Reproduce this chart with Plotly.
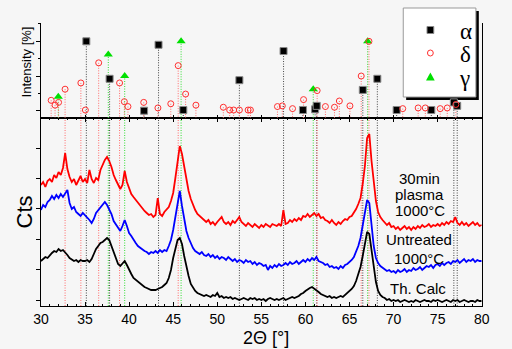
import numpy as np
import plotly.graph_objects as go

# ---------------- data ----------------
two_theta = np.round(np.arange(30.0, 80.001, 0.25), 2)

plasma_30min = [
    121, 124, 119, 125, 127, 124, 131, 128, 134, 131, 138, 153, 137, 129, 124, 127,
    121, 125, 130, 124, 127, 123, 136, 127, 123, 128, 126, 136, 141, 146, 149, 145,
    139, 131, 126, 122, 117, 121, 135, 124, 117, 112, 109, 106, 103, 100, 97, 95,
    93, 91, 92, 89, 91, 108, 92, 90, 94, 96, 99, 105, 113, 128, 147, 160,
    152, 140, 126, 115, 107, 101, 96, 92, 90, 87, 85, 84, 86, 82, 84, 81,
    84, 86, 89, 84, 82, 84, 81, 85, 83, 86, 89, 84, 82, 80, 83, 81,
    79, 82, 80, 78, 81, 79, 82, 80, 79, 82, 81, 80, 82, 80, 96, 82,
    83, 86, 84, 87, 85, 88, 86, 90, 89, 92, 89, 91, 93, 90, 92, 88,
    89, 86, 85, 83, 86, 83, 81, 84, 82, 85, 87, 86, 89, 90, 93, 97,
    102, 108, 122, 140, 168, 172, 145, 125, 105, 94, 89, 86, 84, 81, 83, 79,
    80, 77, 79, 76, 78, 80, 77, 79, 76, 79, 77, 80, 78, 81, 79, 80,
    82, 79, 81, 80, 82, 80, 83, 81, 84, 82, 85, 84, 89, 83, 81, 84,
    81, 83, 80, 82, 84, 81, 83, 80, 81,
]

untreated = [
    96, 101, 99, 104, 106, 110, 107, 111, 108, 112, 109, 113, 116, 103, 97, 99,
    94, 92, 90, 93, 91, 88, 86, 83, 87, 93, 96, 99, 102, 104, 101, 97,
    92, 85, 82, 78, 75, 80, 86, 80, 73, 70, 66, 63, 60, 58, 56, 55,
    54, 52, 54, 53, 55, 53, 56, 54, 56, 55, 60, 66, 76, 90, 104, 115,
    100, 87, 75, 68, 62, 58, 55, 53, 52, 54, 51, 50, 52, 49, 51, 48,
    50, 47, 49, 48, 46, 49, 47, 45, 47, 44, 46, 45, 43, 46, 44, 45,
    42, 44, 41, 43, 42, 40, 41, 36, 40, 38, 41, 39, 42, 40, 41, 43,
    41, 44, 42, 43, 45, 42, 44, 46, 44, 47, 45, 48, 46, 49, 45, 44,
    43, 41, 42, 39, 40, 38, 39, 37, 40, 38, 41, 42, 44, 46, 49, 54,
    60, 68, 80, 95, 106, 103, 80, 60, 48, 43, 40, 38, 37, 35, 36, 34,
    35, 33, 36, 34, 35, 37, 34, 36, 35, 38, 36, 37, 39, 36, 38, 40,
    39, 41, 38, 41, 42, 40, 43, 41, 43, 44, 42, 45, 44, 46, 43, 45,
    47, 44, 46, 45, 47, 44, 46, 45, 45,
]

th_calc = [
    45, 47, 49, 48, 51, 53, 55, 54, 57, 55, 56, 54, 51, 48, 46, 45,
    46, 44, 46, 45, 45, 46, 44, 47, 52, 57, 60, 63, 64, 66, 68, 66,
    60, 52, 46, 42, 40, 42, 45, 41, 36, 32, 28, 26, 24, 22, 20, 19,
    18, 17, 16, 16, 16, 17, 18, 19, 21, 23, 28, 36, 48, 58, 66, 68,
    62, 50, 38, 30, 22, 18, 15, 13, 12, 11, 10, 11, 10, 9, 11, 10,
    13, 9, 10, 8, 9, 8, 9, 7, 8, 7, 6, 7, 8, 7, 6, 8,
    7, 8, 6, 7, 6, 7, 5, 7, 8, 7, 6, 7, 6, 7, 8, 6,
    7, 8, 9, 8, 9, 10, 12, 13, 15, 17, 18, 19, 17, 15, 14, 12,
    11, 10, 9, 10, 8, 9, 8, 9, 10, 9, 11, 12, 14, 17, 20, 25,
    32, 39, 50, 62, 74, 72, 55, 38, 24, 15, 11, 9, 8, 6, 7, 5,
    6, 5, 6, 4, 5, 6, 5, 4, 5, 4, 6, 5, 4, 5, 6, 5,
    5, 4, 6, 5, 6, 5, 4, 5, 6, 5, 4, 6, 5, 6, 4, 5,
    6, 5, 4, 5, 5, 4, 6, 5, 5,
]

alpha_pos = [35.15, 37.79, 41.70, 43.34, 46.15, 52.51, 57.52, 59.72, 61.10, 61.28,
             66.51, 68.16, 70.35, 74.28, 76.84, 77.22]
alpha_int = [100, 46, 0, 95, 1, 44, 86, 1, 2, 7, 30, 46, 1, 1, 12, 7]

delta_pos = [31.16, 31.60, 32.00, 32.74, 34.53, 35.04, 36.55, 38.92, 39.46, 39.87,
             41.66, 43.27, 44.73, 45.57, 46.41, 47.58, 50.69, 51.41, 51.86, 52.51,
             53.50, 53.76, 56.83, 57.38, 58.54, 59.79, 61.33, 62.27, 63.30, 63.85,
             65.05, 66.33, 67.21, 71.04, 72.79, 73.60, 75.29, 76.09, 77.07]
delta_int = [15, 8, 12, 31, 40, 1, 69, 40, 13, 6,
             12, 4, 10, 65, 24, 8, 5, 1, 1, 1,
             1, 1, 6, 7, 3, 16, 29, 6, 5, 14,
             7, 50, 100, 3, 4, 4, 3, 4, 9]

gamma_pos = [31.97, 37.64, 39.50, 45.90, 60.89, 67.06]
gamma_int = [20, 81, 50, 100, 31, 100]

curve_labels = ["30min plasma 1000°C", "Untreated 1000°C", "Th. Calc"]

# ---------------- layout helpers ----------------
W, H = 512, 349
def px(x):
    return x / W
def py(y):
    return 1 - y / H

BG = "#f6f6f6"
SANS = "Liberation Sans, Arial, sans-serif"
SERIF = "Liberation Serif, Times New Roman, serif"

UP_RANGE = [-10.5, 126.4]
LO_RANGE = [0, 188]

fig = go.Figure()

def drop_lines(pos, inten, bottom):
    xs, ys = [], []
    for p, i in zip(pos, inten):
        xs += [p, p, None]
        ys += [i, bottom, None]
    return xs, ys

def full_lines(pos):
    xs, ys = [], []
    for p in pos:
        xs += [p, p, None]
        ys += [LO_RANGE[0], LO_RANGE[1], None]
    return xs, ys

phases = [
    ("γ", gamma_pos, gamma_int, "#33dd33", 25),
    ("α", alpha_pos, alpha_int, "#444444", 5),
    ("δ", delta_pos, delta_int, "#ff6b6b", 25),
]

# reference lines in lower panel (strong reflections)
for name, pos, inten, col, thr in phases:
    sel = [p for p, i in zip(pos, inten) if i >= thr]
    xs, ys = full_lines(sel)
    fig.add_trace(go.Scatter(x=xs, y=ys, mode="lines", xaxis="x", yaxis="y",
                             line=dict(color=col, width=1, dash="1px,1.5px"),
                             showlegend=False, hoverinfo="skip"))

# drop lines in upper panel
for name, pos, inten, col, thr in phases:
    xs, ys = drop_lines(pos, inten, UP_RANGE[0])
    fig.add_trace(go.Scatter(x=xs, y=ys, mode="lines", xaxis="x2", yaxis="y2",
                             line=dict(color=col, width=1, dash="1px,1.5px"),
                             showlegend=False, hoverinfo="skip"))

# markers
fig.add_trace(go.Scatter(x=gamma_pos, y=gamma_int, mode="markers", xaxis="x2", yaxis="y2",
                         marker=dict(symbol="triangle-up", size=8, color="#00e000",
                                     line=dict(width=0)), showlegend=False))
fig.add_trace(go.Scatter(x=alpha_pos, y=alpha_int, mode="markers", xaxis="x2", yaxis="y2",
                         marker=dict(symbol="square", size=7, color="black",
                                     line=dict(color="#888888", width=1)), showlegend=False))
fig.add_trace(go.Scatter(x=delta_pos, y=delta_int, mode="markers", xaxis="x2", yaxis="y2",
                         marker=dict(symbol="circle-open", size=6, color="#ff3030",
                                     line=dict(width=1)), showlegend=False))

# XRD curves
for ys, col, lab in [(th_calc, "black", curve_labels[2]),
                     (untreated, "#0000ff", curve_labels[1]),
                     (plasma_30min, "#ff0000", curve_labels[0])]:
    fig.add_trace(go.Scatter(x=two_theta, y=ys, mode="lines", xaxis="x", yaxis="y",
                             name=lab, line=dict(color=col, width=1.8), showlegend=False))

xdom = [px(34), px(489)]
fig.update_layout(
    width=W, height=H,
    margin=dict(l=0, r=0, t=0, b=0),
    paper_bgcolor=BG, plot_bgcolor=BG,
    showlegend=False,
    xaxis=dict(domain=xdom, anchor="y", range=[30, 80], dtick=5, tick0=30,
               ticks="inside", ticklen=4, tickcolor="black",
               minor=dict(dtick=1, ticks="inside", ticklen=2, tickcolor="black"),
               showline=True, linecolor="black", linewidth=1, mirror="ticks",
               showgrid=False, zeroline=False,
               tickfont=dict(family=SANS, size=14, color="black")),
    yaxis=dict(domain=[py(306), py(118)], anchor="x", range=LO_RANGE,
               tick0=6, dtick=30.4, ticks="outside", ticklen=4, tickcolor="black",
               showticklabels=False, showline=True, linecolor="black", linewidth=1,
               mirror=True, showgrid=False, zeroline=False),
    xaxis2=dict(domain=xdom, anchor="y2", range=[30, 80], dtick=5, tick0=30,
                ticks="inside", ticklen=3, tickcolor="black", showticklabels=False,
                showline=True, linecolor="black", linewidth=1,
                showgrid=False, zeroline=False),
    yaxis2=dict(domain=[py(118), py(23)], anchor="x2", range=UP_RANGE,
                tick0=0, dtick=50, ticks="outside", ticklen=4, tickcolor="black",
                minor=dict(tick0=0, dtick=25, ticks="outside", ticklen=2, tickcolor="black"),
                showticklabels=False, showline=True, linecolor="black", linewidth=1,
                mirror=True, showgrid=False, zeroline=False),
)

ann = []
def text(x, y, s, size=15, family=SANS, angle=0):
    ann.append(dict(x=px(x), y=py(y), xref="paper", yref="paper", text=s,
                    showarrow=False, xanchor="center", yanchor="middle",
                    textangle=angle, font=dict(family=family, size=size, color="black")))

text(425, 178, "30min")
text(425, 194, "plasma")
text(425, 210, "1000°C")
text(424, 240, "Untreated")
text(424, 258, "1000°C")
text(423, 288, "Th. Calc")
text(266, 338, "2Θ [°]", size=18)
text(17, 212, "Cts", size=22, angle=-90)
text(20, 62, "Intensity [%]", size=13, angle=-90)

# legend (drawn manually)
text(473, 31, "α", size=23, family=SERIF)
text(472, 54, "δ", size=23, family=SERIF)
text(471, 78, "γ", size=23, family=SERIF)

shapes = [
    dict(type="rect", xref="paper", yref="paper", x0=px(411), x1=px(486),
         y0=py(100), y1=py(11), fillcolor="black", line=dict(width=0), layer="below"),
    dict(type="rect", xref="paper", yref="paper", x0=px(408), x1=px(483),
         y0=py(97), y1=py(8), fillcolor="white", line=dict(color="#999999", width=1),
         layer="below"),
    dict(type="rect", xref="paper", yref="paper", x0=px(432.5), x1=px(439.5),
         y0=py(33.5), y1=py(26.5), fillcolor="black", line=dict(color="#888888", width=1)),
    dict(type="circle", xref="paper", yref="paper", x0=px(433), x1=px(439),
         y0=py(56), y1=py(50), fillcolor="rgba(0,0,0,0)", line=dict(color="#ff3030", width=1)),
    dict(type="path", xref="paper", yref="paper",
         path=f"M {px(431.5)},{py(80.5)} L {px(440.5)},{py(80.5)} L {px(436)},{py(72.5)} Z",
         fillcolor="#00e000", line=dict(width=0)),
]

fig.update_layout(annotations=ann, shapes=shapes)
fig.write_html(
    "out.html",
    post_script="document.body.style.margin='0';document.body.style.padding='0';"
                "document.documentElement.style.overflow='hidden';",
)
